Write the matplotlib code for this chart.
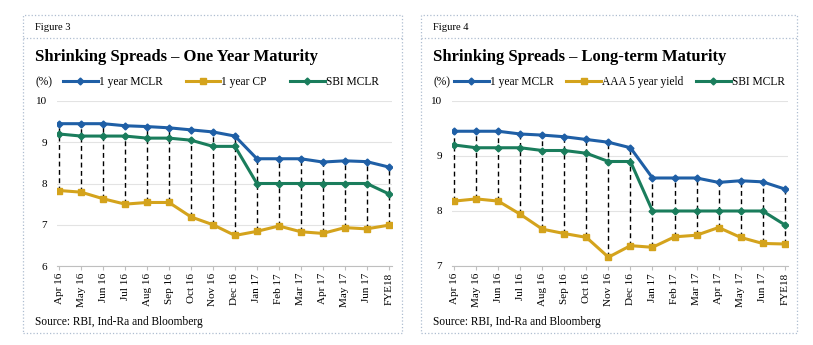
import numpy as np
import matplotlib
matplotlib.use("Agg")
import matplotlib.pyplot as plt
from matplotlib.lines import Line2D
from matplotlib.patches import Rectangle

W, H = 813, 345

months = ["Apr 16", "May 16", "Jun 16", "Jul 16", "Aug 16", "Sep 16", "Oct 16", "Nov 16",
          "Dec 16", "Jan 17", "Feb 17", "Mar 17", "Apr 17", "May 17", "Jun 17", "FYE18"]

mclr_1y = [9.45, 9.45, 9.45, 9.40, 9.38, 9.35, 9.30, 9.25, 9.15, 8.60, 8.60, 8.60, 8.52, 8.55, 8.53, 8.40]
sbi_mclr = [9.20, 9.15, 9.15, 9.15, 9.10, 9.10, 9.05, 8.90, 8.90, 8.00, 8.00, 8.00, 8.00, 8.00, 8.00, 7.75]
cp_1y = [7.83, 7.79, 7.63, 7.50, 7.54, 7.54, 7.19, 7.00, 6.74, 6.84, 6.97, 6.83, 6.79, 6.93, 6.90, 6.99]
aaa_5y = [8.18, 8.22, 8.18, 7.94, 7.67, 7.59, 7.52, 7.16, 7.37, 7.34, 7.53, 7.56, 7.70, 7.52, 7.41, 7.40]

BLUE = "#1f5fa6"
GOLD = "#d4a31c"
GREEN = "#1a7d5c"
SERIF = "Liberation Serif"

plt.rcParams["font.family"] = SERIF


def box(l, t, r, b):
    return [l / W, 1 - b / H, (r - l) / W, (b - t) / H]


def panel(fig, l, r, fig_no, title, third_name, third, ylim, ax_box, leg_dx, colsp):
    t, b = 15, 333
    fig.add_artist(Rectangle((l / W, 1 - b / H), (r - l) / W, (b - t) / H,
                             transform=fig.transFigure, fill=False,
                             ec="#aebdd0", lw=0.9, ls=":"))
    fig.add_artist(Line2D([l / W, r / W], [1 - 38 / H] * 2, transform=fig.transFigure,
                          color="#aebdd0", lw=0.9, ls=":"))
    fig.text((l + 12) / W, 1 - 28 / H, f"Figure {fig_no}", fontsize=7.6, va="center")
    fig.text((l + 12) / W, 1 - 57 / H, title, fontsize=12, fontweight="bold", va="center")
    fig.text((l + 12) / W, 1 - 82 / H, "(%)", fontsize=8.3, va="center")
    fig.text((l + 12) / W, 1 - 322 / H, "Source: RBI, Ind-Ra and Bloomberg", fontsize=8.3, va="center")

    ax = fig.add_axes(box(*ax_box))
    x = np.arange(len(months))
    lo = np.minimum.reduce([mclr_1y, sbi_mclr, third])
    hi = np.maximum.reduce([mclr_1y, sbi_mclr, third])
    ax.vlines(x, lo, hi, colors="black", linestyles=(0, (3.5, 2.5)), lw=1.0, zorder=1)
    ax.plot(x, mclr_1y, color=BLUE, lw=2.2, marker="D", ms=3.5, label="1 year MCLR", zorder=3)
    ax.plot(x, third, color=GOLD, lw=2.2, marker="s", ms=4.5, label=third_name, zorder=3)
    ax.plot(x, sbi_mclr, color=GREEN, lw=2.2, marker="D", ms=3.5, label="SBI MCLR", zorder=3)

    ax.set_xlim(-0.1, 15.15)
    ax.set_ylim(*ylim)
    ax.set_yticks(np.arange(ylim[0], ylim[1] + 1))
    ax.set_xticks(x)
    ax.set_xticklabels(months, rotation=90, fontsize=8)
    ax.tick_params(axis="y", length=0, labelsize=8, pad=7)
    ax.tick_params(axis="x", length=3, color="#bfbfbf", pad=2)
    ax.grid(axis="y", color="#e3e3e3", lw=0.8)
    ax.set_axisbelow(True)
    for s in ["top", "right", "left"]:
        ax.spines[s].set_visible(False)
    ax.spines["bottom"].set_color("#bfbfbf")
    ax.spines["bottom"].set_zorder(0)
    aw = ax_box[2] - ax_box[0]
    ah = ax_box[3] - ax_box[1]
    ax.legend(loc="center left", bbox_to_anchor=(leg_dx / aw, 1 + 19 / ah),
              ncol=3, frameon=False, fontsize=8.3, handlelength=3.0, handletextpad=0.1,
              columnspacing=colsp, borderaxespad=0, borderpad=0)
    return ax


fig = plt.figure(figsize=(W / 100, H / 100), dpi=100)

panel(fig, 23, 402, 3, "Shrinking Spreads \u2013 One Year Maturity", "1 year CP", cp_1y,
      (6, 10), (57, 101, 392, 266), 6, 2.0)
panel(fig, 421, 797, 4, "Shrinking Spreads \u2013 Long-term Maturity", "AAA 5 year yield", aaa_5y,
      (7, 10), (452, 101, 788, 266), 2, 1.1)

fig.savefig("out.png", dpi=100)
